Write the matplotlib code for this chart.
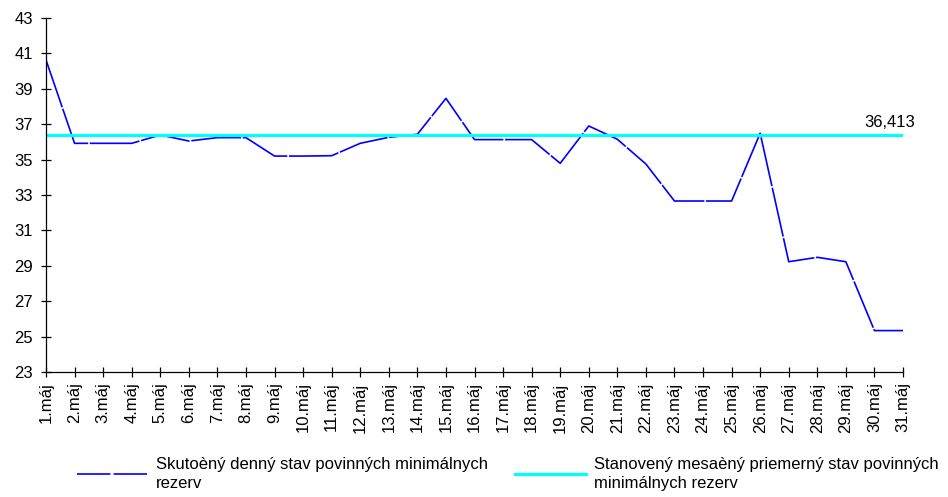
import matplotlib.pyplot as plt

plt.rcParams['font.family'] = ['Liberation Sans', 'DejaVu Sans']

dni = [f"{d}.máj" for d in range(1, 32)]
skutocny = [40.63, 35.92, 35.92, 35.92, 36.39, 36.05, 36.24, 36.24, 35.2, 35.2,
            35.22, 35.92, 36.26, 36.43, 38.46, 36.13, 36.13, 36.13, 34.79, 36.9,
            36.15, 34.75, 32.66, 32.66, 32.66, 36.49, 29.23, 29.48, 29.23, 25.34,
            25.34]
priemer = 36.413
popis1 = "Skutoèný denný stav povinných minimálnych\nrezerv"
popis2 = "Stanovený mesaèný priemerný stav povinných\nminimálnych rezerv"

fs = 12

fig = plt.figure(figsize=(9.48, 4.97), dpi=100)
ax = fig.add_axes([46/948, 1-372/497, (903-46)/948, (372-18)/497])

x = list(range(1, 32))
ax.plot(x, skutocny, color="#0000FF", lw=1.2, linestyle=(0, (30, 1)), label=popis1)
ax.plot(x, [priemer]*len(x), color="#00FFFF", lw=2.3, label=popis2)
ax.annotate("36,413", xy=(31, priemer), xytext=(12, 5), textcoords="offset pixels",
            ha="right", va="bottom", fontsize=fs)

ax.set_xlim(1, 31)
ax.set_ylim(23, 43)
ax.set_yticks(range(23, 44, 2))
ax.set_xticks(x)
ax.set_xticklabels(dni, rotation=90)
ax.tick_params(axis="both", direction="inout", length=7, width=0.9, labelsize=fs)
ax.tick_params(axis="y", pad=6)
ax.tick_params(axis="x", pad=4)
ax.spines["top"].set_visible(False)
ax.spines["right"].set_visible(False)
for s in ("left", "bottom"):
    ax.spines[s].set_linewidth(0.9)

leg = fig.legend(loc="upper left", bbox_to_anchor=(77/948, 1-457/497), ncol=2, frameon=False,
                 borderpad=0, borderaxespad=0, handlelength=4.3, handletextpad=0.45,
                 columnspacing=1.6, fontsize=fs, labelspacing=0)
leg.get_lines()[0].set_linestyle((0, (20, 2)))
for t in leg.get_texts():
    t.set_linespacing(1.3)

fig.savefig("out.png", dpi=100)
